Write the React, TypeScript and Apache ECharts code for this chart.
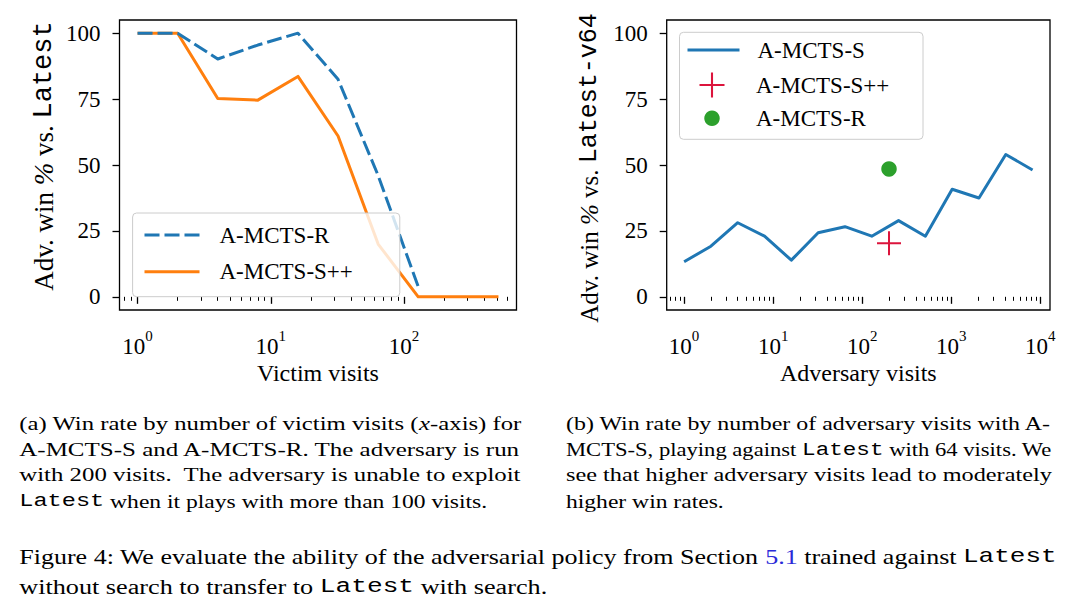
import React, { useEffect, useRef } from 'react';
import * as echarts from 'echarts';

// ---------- data ----------
const victimVisits = [1, 2, 4, 8, 16, 32, 64, 128, 256, 512];
const victimWinSpp = [100, 100, 75.2, 74.6, 83.6, 61.0, 20.0, 0, 0, 0];
const victimWinR = [100, 100, 90.2, 95.5, 100, 82.5, 46.0, 3.8];

const advVisits = [1, 2, 4, 8, 16, 32, 64, 128, 256, 512, 1024, 2048, 4096, 8192];
const advWinS = [13.3, 19.2, 28.1, 23.0, 13.9, 24.3, 26.6, 23.0, 28.9, 23.0, 40.8, 37.5, 54.0, 48.1];
const advSppVisits = [200];
const advSppWin = [20.3];
const advRVisits = [200];
const advRWin = [48.5];

const yTickValues = [0, 25, 50, 75, 100];
const xMajorLeft = [1, 10, 100];
const xMinorLeft = [0.8, 0.9, 2, 3, 4, 5, 6, 7, 8, 9, 20, 30, 40, 50, 60, 70, 80, 90, 200, 300, 400, 500, 600];
const xMajorRight = [1, 10, 100, 1000, 10000];
const xMinorRight = [
  0.7, 0.8, 0.9, 2, 3, 4, 5, 6, 7, 8, 9, 20, 30, 40, 50, 60, 70, 80, 90,
  200, 300, 400, 500, 600, 700, 800, 900, 2000, 3000, 4000, 5000, 6000, 7000, 8000, 9000,
];

type Seg = [string, string];
const captionA: Seg[][] = [
  [['r', '(a) Win rate by number of victim visits ('], ['i', 'x'], ['r', '-axis) for']],
  [['r', 'A-MCTS-S and A-MCTS-R. The adversary is run']],
  [['r', 'with 200 visits.  The adversary is unable to exploit']],
  [['m', 'Latest'], ['r', ' when it plays with more than 100 visits.']],
];
const captionB: Seg[][] = [
  [['r', '(b) Win rate by number of adversary visits with A-']],
  [['r', 'MCTS-S, playing against '], ['m', 'Latest'], ['r', ' with 64 visits. We']],
  [['r', 'see that higher adversary visits lead to moderately']],
  [['r', 'higher win rates.']],
];
const captionFig: Seg[][] = [
  [
    ['r', 'Figure 4: We evaluate the ability of the adversarial policy from Section '],
    ['l', '5.1'],
    ['r', ' trained against '],
    ['m', 'Latest'],
  ],
  [['r', 'without search to transfer to '], ['m', 'Latest'], ['r', ' with search.']],
];

// ---------- style ----------
const SERIF = '"Liberation Serif", "Times New Roman", serif';
const MONO = '"Liberation Mono", "DejaVu Sans Mono", monospace';
const BLUE = '#1f77b4';
const ORANGE = '#ff7f0e';
const GREEN = '#2ca02c';
const RED = '#dc143c';
const PLUS = 'path://M11,0H13V11H24V13H13V24H11V13H0V11H11Z';

function logExtent(vals: number[]): [number, number] {
  const lo = Math.log10(Math.min(...vals));
  const hi = Math.log10(Math.max(...vals));
  const m = (hi - lo) * 0.05;
  return [Math.pow(10, lo - m), Math.pow(10, hi + m)];
}

function fontFor(k: string, size: number) {
  if (k === 'i') return `italic ${size}px ${SERIF}`;
  if (k === 'm') return `${size}px ${MONO}`;
  return `${size}px ${SERIF}`;
}

function measure(segs: Seg[], size: number) {
  const ctx = document.createElement('canvas').getContext('2d')!;
  let w = 0;
  for (const [k, t] of segs) {
    ctx.font = fontFor(k, size);
    w += ctx.measureText(t).width;
  }
  return w;
}

function captionRich(size: number) {
  return {
    r: { fontFamily: SERIF, fontSize: size, fill: '#000' },
    i: { fontFamily: SERIF, fontSize: size, fontStyle: 'italic', fill: '#000' },
    m: { fontFamily: MONO, fontSize: size, fill: '#000' },
    l: { fontFamily: SERIF, fontSize: size, fill: '#2a2ad8' },
  };
}

function captionElements(lines: Seg[][], x: number, width: number, ys: number[], size: number, justify: boolean[]) {
  const natural = 1.31;
  return lines.map((segs, i) => {
    const w = measure(segs, size);
    const s = justify[i] ? width / w : natural;
    return {
      type: 'text',
      x,
      y: ys[i],
      scaleX: s,
      z: 10,
      silent: true,
      style: {
        text: segs.map(([k, t]) => `{${k}|${t}}`).join(''),
        rich: captionRich(size),
        fontFamily: SERIF,
        fontSize: size,
        fill: '#000',
        align: 'left',
        verticalAlign: 'middle',
      },
    };
  });
}

const logLabelRich = {
  b: { fontFamily: SERIF, fontSize: 23, color: '#000', lineHeight: 30, verticalAlign: 'bottom' },
  s: { fontFamily: SERIF, fontSize: 15, color: '#000', lineHeight: 15, verticalAlign: 'top' },
};

function mainX(gridIndex: number, ext: [number, number], majors: number[], name: string) {
  return {
    type: 'log',
    logBase: 10,
    gridIndex,
    min: ext[0],
    max: ext[1],
    axisLine: { show: false },
    splitLine: { show: false },
    minorTick: { show: false },
    axisTick: { show: true, customValues: majors, length: 7, lineStyle: { color: '#000', width: 1.3 } },
    axisLabel: {
      customValues: majors,
      margin: 18,
      formatter: (v: number) => `{b|10}{s|${Math.round(Math.log10(v))}}`,
      rich: logLabelRich,
    },
    name,
    nameLocation: 'middle',
    nameGap: 51,
    nameTextStyle: { fontFamily: SERIF, fontSize: 24, color: '#000' },
  };
}

function minorX(gridIndex: number, ext: [number, number], minors: number[]) {
  return {
    type: 'log',
    logBase: 10,
    gridIndex,
    min: ext[0],
    max: ext[1],
    axisLine: { show: false },
    axisLabel: { show: false },
    splitLine: { show: false },
    axisTick: { show: true, customValues: minors, length: 4, lineStyle: { color: '#000', width: 1 } },
  };
}

function nameRich(size: number) {
  return {
    a: { fontFamily: SERIF, fontSize: size, color: '#000' },
    i: { fontFamily: SERIF, fontSize: size, fontStyle: 'italic', color: '#000' },
    m: { fontFamily: MONO, fontSize: size, color: '#000' },
  };
}

function mainY(gridIndex: number, name: string, gap: number, padding: number[], size: number) {
  return {
    type: 'value',
    gridIndex,
    min: -5,
    max: 105,
    axisLine: { show: false },
    splitLine: { show: false },
    axisTick: { show: true, customValues: yTickValues, length: 7, lineStyle: { color: '#000', width: 1.3 } },
    axisLabel: { customValues: yTickValues, margin: 19, fontFamily: SERIF, fontSize: 23, color: '#000' },
    name,
    nameLocation: 'middle',
    nameRotate: 90,
    nameGap: gap,
    nameTextStyle: { rich: nameRich(size), padding },
  };
}

function minorY(gridIndex: number) {
  return { type: 'value', gridIndex, min: -5, max: 105, show: false };
}

function buildOption() {
  const extL = logExtent(victimVisits);
  const extR = logExtent([...advVisits, ...advSppVisits, ...advRVisits]);
  const gL = { left: 119.5, top: 20, width: 397, height: 290 };
  const gR = { left: 666.7, top: 20, width: 383.3, height: 290 };
  const frame = { show: true, borderColor: '#000', borderWidth: 1.3, outerBoundsMode: 'none' };

  const legendText = { fontFamily: SERIF, fontSize: 23, color: '#000' };
  const strip = (n: string) => n.replace(/^b:/, '');
  const hideSymbol = { opacity: 0, color: 'transparent', borderWidth: 0 };

  return {
    animation: false,
    backgroundColor: '#fff',
    grid: [
      { ...gL, ...frame },
      { ...gL, show: false, outerBoundsMode: 'none' },
      { ...gR, ...frame },
      { ...gR, show: false, outerBoundsMode: 'none' },
    ],
    xAxis: [
      mainX(0, extL, xMajorLeft, 'Victim visits'),
      minorX(1, extL, xMinorLeft),
      mainX(2, extR, xMajorRight, 'Adversary visits'),
      minorX(3, extR, xMinorRight),
    ],
    yAxis: [
      mainY(0, '{a|Adv. win }{i|%}{a| vs. }{m|Latest}', 62, [0, 0, 0, 18], 27),
      minorY(1),
      mainY(2, '{a|Adv. win }{i|%}{a| vs. }{m|Latest-v64}', 65, [0, 6, 0, 0], 25),
      minorY(3),
    ],
    legend: [
      {
        left: 132.6,
        top: 213,
        orient: 'vertical',
        data: ['A-MCTS-R', 'A-MCTS-S++'],
        itemWidth: 55,
        itemHeight: 14,
        itemGap: 13.7,
        padding: [10.5, 47, 13.5, 10.4],
        backgroundColor: 'rgba(255,255,255,0.8)',
        borderColor: '#cccccc',
        borderWidth: 1,
        borderRadius: 4,
        selectedMode: false,
        itemStyle: hideSymbol,
        lineStyle: { width: 3 },
        textStyle: { ...legendText, padding: [0, 0, 0, 15] },
      },
      {
        left: 686,
        top: 50 - 11.5,
        data: ['b:A-MCTS-S'],
        formatter: strip,
        itemWidth: 52,
        itemHeight: 14,
        padding: 0,
        selectedMode: false,
        itemStyle: hideSymbol,
        lineStyle: { width: 3 },
        textStyle: { ...legendText, padding: [0, 0, 0, 13] },
      },
      {
        left: 699.5,
        top: 85 - 12.5,
        data: ['b:A-MCTS-S++'],
        formatter: strip,
        itemWidth: 52,
        itemHeight: 25,
        padding: 0,
        selectedMode: false,
        textStyle: { ...legendText, padding: [0, 0, 0, 13] },
      },
      {
        left: 704.25,
        top: 118.3 - 11.5,
        data: ['b:A-MCTS-R'],
        formatter: strip,
        itemWidth: 52,
        itemHeight: 15.5,
        padding: 0,
        selectedMode: false,
        textStyle: { ...legendText, padding: [0, 0, 0, 13] },
      },
    ],
    series: [
      {
        name: 'A-MCTS-S++',
        type: 'line',
        xAxisIndex: 0,
        yAxisIndex: 0,
        data: victimVisits.map((v, i) => [v, victimWinSpp[i]]),
        symbol: 'none',
        lineStyle: { color: ORANGE, width: 3, join: 'round' },
        itemStyle: { color: ORANGE },
        z: 2,
      },
      {
        name: 'A-MCTS-R',
        type: 'line',
        xAxisIndex: 0,
        yAxisIndex: 0,
        data: victimWinR.map((w, i) => [victimVisits[i], w]),
        symbol: 'none',
        lineStyle: { color: BLUE, width: 3, type: [15, 5], join: 'round' },
        itemStyle: { color: BLUE },
        z: 3,
      },
      {
        name: 'b:A-MCTS-S',
        type: 'line',
        xAxisIndex: 2,
        yAxisIndex: 2,
        data: advVisits.map((v, i) => [v, advWinS[i]]),
        symbol: 'none',
        lineStyle: { color: BLUE, width: 3, join: 'round' },
        itemStyle: { color: BLUE },
        z: 2,
      },
      {
        name: 'b:A-MCTS-S++',
        type: 'scatter',
        xAxisIndex: 2,
        yAxisIndex: 2,
        data: advSppVisits.map((v, i) => [v, advSppWin[i]]),
        symbol: PLUS,
        symbolSize: 24,
        symbolKeepAspect: true,
        itemStyle: { color: RED, opacity: 1 },
        z: 3,
      },
      {
        name: 'b:A-MCTS-R',
        type: 'scatter',
        xAxisIndex: 2,
        yAxisIndex: 2,
        data: advRVisits.map((v, i) => [v, advRWin[i]]),
        symbol: 'circle',
        symbolSize: 15.5,
        itemStyle: { color: GREEN, opacity: 1 },
        z: 3,
      },
    ],
    graphic: [
      {
        type: 'rect',
        z: 3,
        silent: true,
        shape: { x: 679.5, y: 32.3, width: 243.5, height: 107, r: 4 },
        style: { fill: 'rgba(255,255,255,0.8)', stroke: '#cccccc', lineWidth: 1 },
      },
      ...captionElements(captionA, 19.3, 502, [424.3, 450, 475.5, 501.5], 18, [true, true, true, false]),
      ...captionElements(captionB, 566, 486, [424.3, 450, 475.5, 501.5], 18, [true, true, true, false]),
      ...captionElements(captionFig, 19.3, 1037.7, [556.7, 586.7], 20, [true, false]),
    ],
  };
}

export default function App() {
  const ref = useRef<HTMLDivElement>(null);
  useEffect(() => {
    document.body.style.margin = '0';
    const chart = echarts.init(ref.current!, null, { renderer: 'svg' });
    chart.setOption(buildOption() as any);
    return () => chart.dispose();
  }, []);
  return <div ref={ref} style={{ width: 1080, height: 608 }} />;
}
